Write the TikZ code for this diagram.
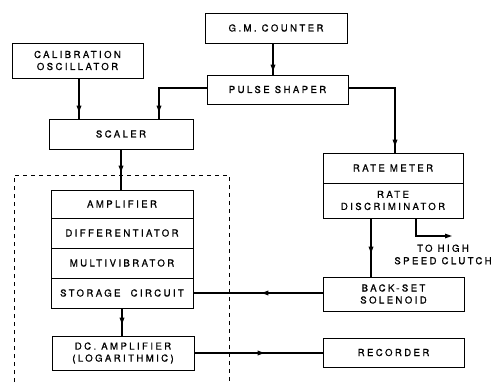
\documentclass[tikz,border=0pt]{standalone}
\usepackage{fontspec}
\setmainfont[LetterSpace=25,FakeBold=0.8]{TeX Gyre Heros}
\usetikzlibrary{arrows.meta,decorations.markings}
\tikzset{
  blk/.style={draw,line width=0.9pt,inner sep=0pt,align=center,font=\fontsize{9.6}{12}\selectfont},
  conn/.style={line width=1.6pt},
  tipat/.style={postaction={decorate,decoration={markings,mark=at position #1 with {\arrow{Triangle[length=7pt,width=4.5pt]}}}}},
  lbl/.style={align=center,inner sep=0pt,font=\fontsize{9.6}{12.5}\selectfont}
}
\begin{document}
\begin{tikzpicture}[x=1pt,y=-1pt]
\useasboundingbox (0,0) rectangle (494,382);
% boxes
\node[blk,minimum width=142pt,minimum height=30pt] (gm) at (276,28) {G.M.\ COUNTER};
\node[blk,minimum width=131pt,minimum height=35pt] (cal) at (77.5,60.5) {CALIBRATION\\OSCILLATOR};
\node[blk,minimum width=141pt,minimum height=29pt] (pulse) at (277.5,89.5) {PULSE SHAPER};
\node[blk,minimum width=144pt,minimum height=30pt] (scaler) at (121,134) {SCALER};
% stack
\node[blk,minimum width=142pt,minimum height=28pt] (amp) at (122,204) {AMPLIFIER};
\node[blk,minimum width=142pt,minimum height=30pt] (diff) at (122,233) {DIFFERENTIATOR};
\node[blk,minimum width=142pt,minimum height=30pt] (multi) at (122,263) {MULTIVIBRATOR};
\node[blk,minimum width=142pt,minimum height=30pt] (stor) at (122,293) {STORAGE\ \ CIRCUIT};
\node[blk,minimum width=142pt,minimum height=34pt] (dc) at (123,353) {DC.\ AMPLIFIER\\(LOGARITHMIC)};
% right column
\node[blk,minimum width=140pt,minimum height=30pt] (rate) at (393,168) {RATE METER};
\node[blk,minimum width=140pt,minimum height=35pt] (disc) at (393,200.5) {RATE\\DISCRIMINATOR};
\node[blk,minimum width=141pt,minimum height=34pt] (back) at (393.5,294) {BACK-SET\\SOLENOID};
\node[blk,minimum width=141pt,minimum height=29pt] (rec) at (393.5,352.5) {RECORDER};
\node[lbl] (clutch) at (443,254.5) {TO HIGH\\SPEED CLUTCH};
\coordinate (clutchend) at (452,236);
% dashed enclosure
\draw[dashed,line width=0.8pt,dash pattern=on 4pt off 4pt] (14,382) -- (14,175) -- (229,175) -- (229,382);
% connectors
\draw[conn,tipat=-3pt] (gm.south -| 273,0) -- (pulse.north -| 273,0);
\draw[conn,tipat=-6pt] (cal.south -| 79,0) -- (scaler.north -| 79,0);
\draw[conn,tipat=-6pt] (pulse.west |- 0,88) -| (scaler.north -| 159,0);
\draw[conn,tipat=-6pt] (pulse.east |- 0,88) -| (rate.north -| 395,0);
\draw[conn,tipat=-17pt] (scaler.south -| 121,0) -- (amp.north -| 121,0);
\draw[conn,tipat=-11pt] (stor.south -| 122,0) -- (dc.north -| 122,0);
\draw[conn,tipat=-23pt] (disc.south -| 371,0) -- (back.north -| 371,0);
\draw[conn,line width=1.2pt,-{Triangle[length=7pt,width=4.5pt]}] (disc.south -| 416,0) |- (clutchend);
\draw[conn,tipat=-68pt] (back.west |- 0,293) -- (stor.east |- 0,293);
\draw[conn,tipat=-58pt] (dc.east |- 0,353) -- (rec.west |- 0,353);
\end{tikzpicture}
\end{document}
